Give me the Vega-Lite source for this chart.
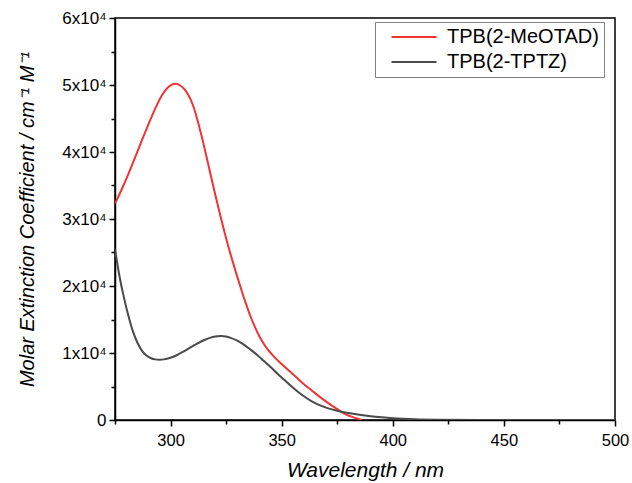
{
  "$schema": "https://vega.github.io/schema/vega-lite/v6.json",
  "width": 500,
  "height": 402,
  "autosize": {"type": "none"},
  "padding": {"left": 115, "top": 18, "right": 17, "bottom": 63},
  "background": "white",
  "config": {
    "font": "Liberation Sans",
    "view": {"stroke": "black", "strokeWidth": 1.5}
  },
  "data": {
    "values": [
      {"wl": 275, "eps": 32300, "s": "TPB(2-MeOTAD)"},
      {"wl": 278, "eps": 34400, "s": "TPB(2-MeOTAD)"},
      {"wl": 281, "eps": 36700, "s": "TPB(2-MeOTAD)"},
      {"wl": 284, "eps": 39150, "s": "TPB(2-MeOTAD)"},
      {"wl": 287, "eps": 41650, "s": "TPB(2-MeOTAD)"},
      {"wl": 290, "eps": 44100, "s": "TPB(2-MeOTAD)"},
      {"wl": 293, "eps": 46400, "s": "TPB(2-MeOTAD)"},
      {"wl": 296, "eps": 48400, "s": "TPB(2-MeOTAD)"},
      {"wl": 299, "eps": 49700, "s": "TPB(2-MeOTAD)"},
      {"wl": 302, "eps": 50200, "s": "TPB(2-MeOTAD)"},
      {"wl": 304, "eps": 50000, "s": "TPB(2-MeOTAD)"},
      {"wl": 306, "eps": 49450, "s": "TPB(2-MeOTAD)"},
      {"wl": 308, "eps": 48500, "s": "TPB(2-MeOTAD)"},
      {"wl": 310, "eps": 47050, "s": "TPB(2-MeOTAD)"},
      {"wl": 312, "eps": 44900, "s": "TPB(2-MeOTAD)"},
      {"wl": 314, "eps": 42350, "s": "TPB(2-MeOTAD)"},
      {"wl": 316, "eps": 39550, "s": "TPB(2-MeOTAD)"},
      {"wl": 318, "eps": 36650, "s": "TPB(2-MeOTAD)"},
      {"wl": 320, "eps": 33800, "s": "TPB(2-MeOTAD)"},
      {"wl": 322, "eps": 31050, "s": "TPB(2-MeOTAD)"},
      {"wl": 324, "eps": 28400, "s": "TPB(2-MeOTAD)"},
      {"wl": 326, "eps": 25900, "s": "TPB(2-MeOTAD)"},
      {"wl": 328, "eps": 23600, "s": "TPB(2-MeOTAD)"},
      {"wl": 330, "eps": 21400, "s": "TPB(2-MeOTAD)"},
      {"wl": 332, "eps": 19300, "s": "TPB(2-MeOTAD)"},
      {"wl": 334, "eps": 17300, "s": "TPB(2-MeOTAD)"},
      {"wl": 336, "eps": 15450, "s": "TPB(2-MeOTAD)"},
      {"wl": 338, "eps": 13850, "s": "TPB(2-MeOTAD)"},
      {"wl": 340, "eps": 12450, "s": "TPB(2-MeOTAD)"},
      {"wl": 343, "eps": 10850, "s": "TPB(2-MeOTAD)"},
      {"wl": 346, "eps": 9650, "s": "TPB(2-MeOTAD)"},
      {"wl": 350, "eps": 8350, "s": "TPB(2-MeOTAD)"},
      {"wl": 354, "eps": 7150, "s": "TPB(2-MeOTAD)"},
      {"wl": 358, "eps": 5950, "s": "TPB(2-MeOTAD)"},
      {"wl": 362, "eps": 4800, "s": "TPB(2-MeOTAD)"},
      {"wl": 366, "eps": 3750, "s": "TPB(2-MeOTAD)"},
      {"wl": 370, "eps": 2750, "s": "TPB(2-MeOTAD)"},
      {"wl": 374, "eps": 1850, "s": "TPB(2-MeOTAD)"},
      {"wl": 378, "eps": 1000, "s": "TPB(2-MeOTAD)"},
      {"wl": 382, "eps": 420, "s": "TPB(2-MeOTAD)"},
      {"wl": 386, "eps": 0, "s": "TPB(2-MeOTAD)"},
      {"wl": 275, "eps": 25500, "s": "TPB(2-TPTZ)"},
      {"wl": 277, "eps": 21500, "s": "TPB(2-TPTZ)"},
      {"wl": 279, "eps": 18300, "s": "TPB(2-TPTZ)"},
      {"wl": 281, "eps": 15600, "s": "TPB(2-TPTZ)"},
      {"wl": 283, "eps": 13300, "s": "TPB(2-TPTZ)"},
      {"wl": 285, "eps": 11600, "s": "TPB(2-TPTZ)"},
      {"wl": 287, "eps": 10400, "s": "TPB(2-TPTZ)"},
      {"wl": 289, "eps": 9650, "s": "TPB(2-TPTZ)"},
      {"wl": 291, "eps": 9250, "s": "TPB(2-TPTZ)"},
      {"wl": 293, "eps": 9050, "s": "TPB(2-TPTZ)"},
      {"wl": 295, "eps": 9000, "s": "TPB(2-TPTZ)"},
      {"wl": 297, "eps": 9050, "s": "TPB(2-TPTZ)"},
      {"wl": 300, "eps": 9300, "s": "TPB(2-TPTZ)"},
      {"wl": 303, "eps": 9700, "s": "TPB(2-TPTZ)"},
      {"wl": 306, "eps": 10250, "s": "TPB(2-TPTZ)"},
      {"wl": 309, "eps": 10850, "s": "TPB(2-TPTZ)"},
      {"wl": 312, "eps": 11400, "s": "TPB(2-TPTZ)"},
      {"wl": 315, "eps": 11900, "s": "TPB(2-TPTZ)"},
      {"wl": 318, "eps": 12300, "s": "TPB(2-TPTZ)"},
      {"wl": 321, "eps": 12500, "s": "TPB(2-TPTZ)"},
      {"wl": 323, "eps": 12550, "s": "TPB(2-TPTZ)"},
      {"wl": 325, "eps": 12450, "s": "TPB(2-TPTZ)"},
      {"wl": 327, "eps": 12250, "s": "TPB(2-TPTZ)"},
      {"wl": 330, "eps": 11850, "s": "TPB(2-TPTZ)"},
      {"wl": 333, "eps": 11250, "s": "TPB(2-TPTZ)"},
      {"wl": 336, "eps": 10500, "s": "TPB(2-TPTZ)"},
      {"wl": 339, "eps": 9700, "s": "TPB(2-TPTZ)"},
      {"wl": 342, "eps": 8800, "s": "TPB(2-TPTZ)"},
      {"wl": 345, "eps": 7900, "s": "TPB(2-TPTZ)"},
      {"wl": 348, "eps": 6950, "s": "TPB(2-TPTZ)"},
      {"wl": 351, "eps": 6050, "s": "TPB(2-TPTZ)"},
      {"wl": 354, "eps": 5150, "s": "TPB(2-TPTZ)"},
      {"wl": 357, "eps": 4300, "s": "TPB(2-TPTZ)"},
      {"wl": 360, "eps": 3550, "s": "TPB(2-TPTZ)"},
      {"wl": 363, "eps": 2900, "s": "TPB(2-TPTZ)"},
      {"wl": 366, "eps": 2380, "s": "TPB(2-TPTZ)"},
      {"wl": 370, "eps": 1850, "s": "TPB(2-TPTZ)"},
      {"wl": 375, "eps": 1380, "s": "TPB(2-TPTZ)"},
      {"wl": 380, "eps": 1030, "s": "TPB(2-TPTZ)"},
      {"wl": 385, "eps": 770, "s": "TPB(2-TPTZ)"},
      {"wl": 390, "eps": 560, "s": "TPB(2-TPTZ)"},
      {"wl": 395, "eps": 400, "s": "TPB(2-TPTZ)"},
      {"wl": 400, "eps": 270, "s": "TPB(2-TPTZ)"},
      {"wl": 405, "eps": 180, "s": "TPB(2-TPTZ)"},
      {"wl": 410, "eps": 110, "s": "TPB(2-TPTZ)"},
      {"wl": 420, "eps": 45, "s": "TPB(2-TPTZ)"},
      {"wl": 440, "eps": 12, "s": "TPB(2-TPTZ)"},
      {"wl": 470, "eps": 4, "s": "TPB(2-TPTZ)"},
      {"wl": 500, "eps": 0, "s": "TPB(2-TPTZ)"}
    ]
  },
  "mark": {"type": "line", "interpolate": "monotone", "strokeWidth": 2, "clip": true},
  "encoding": {
    "x": {
      "field": "wl",
      "type": "quantitative",
      "scale": {"domain": [275, 500], "nice": false, "zero": false},
      "axis": {
        "values": [275, 300, 325, 350, 375, 400, 425, 450, 475, 500],
        "labelExpr": "datum.value % 50 === 0 ? datum.label : ''",
        "grid": false,
        "domainColor": "black",
        "domainWidth": 1.5,
        "tickColor": "black",
        "tickWidth": 1.5,
        "tickSize": {"condition": {"test": "datum.value % 50 === 0", "value": 6}, "value": 4},
        "labelFontSize": 16.5,
        "labelColor": "black",
        "labelPadding": 6,
        "labelFlush": false,
        "labelOverlap": false,
        "title": "Wavelength / nm",
        "titleFontSize": 21,
        "titleFontStyle": "italic",
        "titleFontWeight": "normal",
        "titleColor": "black",
        "titlePadding": 11
      }
    },
    "y": {
      "field": "eps",
      "type": "quantitative",
      "scale": {"domain": [0, 60000], "nice": false},
      "axis": {
        "values": [0, 5000, 10000, 15000, 20000, 25000, 30000, 35000, 40000, 45000, 50000, 55000, 60000],
        "labelExpr": "datum.value === 0 ? '0' : (datum.value % 10000 === 0 ? (datum.value / 10000) + 'x10⁴' : '')",
        "grid": false,
        "domainColor": "black",
        "domainWidth": 1.5,
        "tickColor": "black",
        "tickWidth": 1.5,
        "tickSize": {"condition": {"test": "datum.value % 10000 === 0", "value": 6}, "value": 4},
        "labelFontSize": 17,
        "labelColor": "black",
        "labelPadding": 3,
        "labelFlush": false,
        "labelOverlap": false,
        "title": "Molar Extinction Coefficient / cm⁻¹ M⁻¹",
        "titleFontSize": 20,
        "titleFontStyle": "italic",
        "titleFontWeight": "normal",
        "titleColor": "black",
        "titlePadding": 24
      }
    },
    "color": {
      "field": "s",
      "type": "nominal",
      "scale": {"domain": ["TPB(2-MeOTAD)", "TPB(2-TPTZ)"], "range": ["#f03434", "#4a4a4a"]},
      "legend": {
        "title": null,
        "orient": "none",
        "legendX": 260,
        "legendY": 4,
        "strokeColor": "#808080",
        "fillColor": "white",
        "padding": 5,
        "symbolType": "M0.3,0H9.3",
        "symbolSize": 100,
        "symbolStrokeWidth": 2,
        "labelFontSize": 20,
        "labelColor": "black",
        "labelOffset": 47,
        "rowPadding": 5,
        "labelLimit": 300
      }
    }
  }
}
